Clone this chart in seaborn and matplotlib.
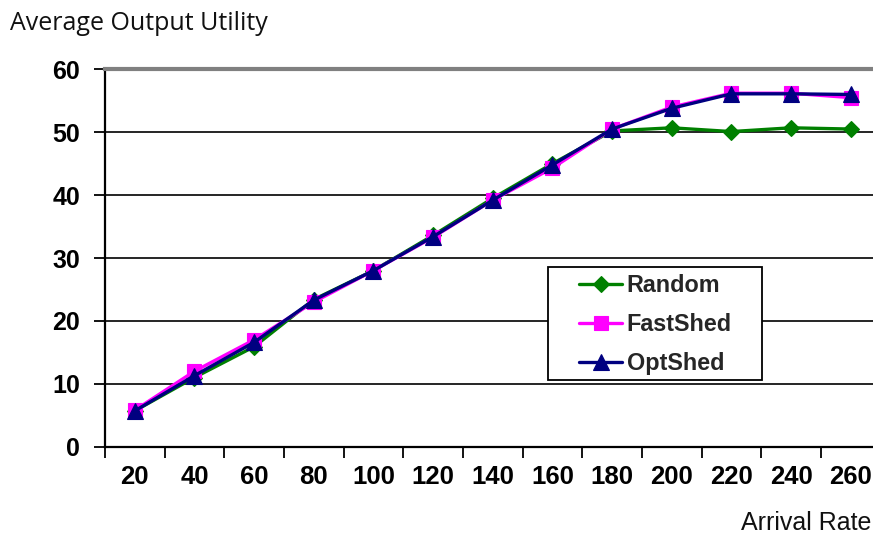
import numpy as np
import pandas as pd
import matplotlib
matplotlib.use("Agg")
import matplotlib.pyplot as plt
from matplotlib.patches import Rectangle
import seaborn as sns

# Data
arrival_rates = [20, 40, 60, 80, 100, 120, 140, 160, 180, 200, 220, 240, 260]
random_util = [5.7, 11.0, 15.9, 23.4, 28.0, 33.6, 39.5, 45.0, 50.2, 50.7, 50.1, 50.7, 50.5]
fastshed_util = [5.8, 12.0, 17.0, 23.0, 28.0, 33.3, 39.2, 44.3, 50.5, 54.0, 56.2, 56.2, 55.5]
optshed_util = [5.7, 11.3, 16.6, 23.3, 28.0, 33.4, 39.2, 44.8, 50.5, 53.8, 56.1, 56.1, 56.0]

series_names = ["Random", "FastShed", "OptShed"]
series_values = [random_util, fastshed_util, optshed_util]
series_colors = ["#008000", "#FF00FF", "#000080"]
series_markers = ["D", "s", "^"]
series_msizes = [8.5, 10.5, 11]

pos = np.arange(len(arrival_rates))
df = pd.concat(
    [pd.DataFrame({"pos": pos, "rate": arrival_rates, "utility": vals, "series": name})
     for name, vals in zip(series_names, series_values)],
    ignore_index=True,
)

sns.set_theme(style="white")
plt.rcParams["font.family"] = ["Liberation Sans", "DejaVu Sans"]

W, H = 873, 534
fig = plt.figure(figsize=(W / 100, H / 100), dpi=100)
ax = fig.add_axes([105 / W, 1 - 446.7 / H, 775.5 / W, 377.4 / H])

# Horizontal grid lines
for yv in [10, 20, 30, 40, 50]:
    ax.axhline(yv, color="black", lw=1.2, zorder=1)

for name, color, marker, ms in zip(series_names, series_colors, series_markers, series_msizes):
    sub = df[df["series"] == name]
    sns.lineplot(data=sub, x="pos", y="utility", ax=ax, color=color, lw=2.4,
                 marker=marker, markersize=ms, markeredgecolor=color,
                 markeredgewidth=0.8, label=name, zorder=3, clip_on=False)

ax.set_xlim(-0.5, len(arrival_rates) - 0.5)
ax.set_ylim(0, 60)
ax.set_xlabel("")
ax.set_ylabel("")

# Category ticks sit between categories; labels centred on them
ax.set_xticks(pos)
ax.set_xticklabels([str(r) for r in arrival_rates], fontsize=18.5, fontweight="bold")
ax.set_xticks(np.arange(-0.5, len(arrival_rates) + 0.5, 1), minor=True)
ax.tick_params(axis="x", which="major", length=0, pad=13, colors="black")
ax.tick_params(axis="x", which="minor", direction="out", length=8, width=1.3,
               color="black", bottom=True)

ax.set_yticks(np.arange(0, 61, 10))
ax.set_yticklabels([str(v) for v in range(0, 61, 10)], fontsize=18, fontweight="bold")
ax.tick_params(axis="y", direction="out", length=8, width=1.3, color="black",
               pad=10, left=True, colors="black")

for side in ["left", "bottom"]:
    ax.spines[side].set_color("black")
    ax.spines[side].set_linewidth(1.6)
ax.spines["right"].set_visible(False)
ax.spines["top"].set_color("#808080")
ax.spines["top"].set_linewidth(3)
ax.set_facecolor("white")

# Legend box, then the legend entries on top of it
ax.add_patch(Rectangle((548 / W, 1 - 380 / H), 214 / W, 113 / H,
                       transform=fig.transFigure, facecolor="white",
                       edgecolor="black", lw=1.3, zorder=4, clip_on=False))
leg = ax.legend(loc="upper left",
                bbox_to_anchor=(579 / W, 1 - 274 / H), bbox_transform=fig.transFigure,
                frameon=False,
                prop={"family": "Liberation Sans", "weight": "bold", "size": 16.8},
                handlelength=1.85, handletextpad=0.2, labelspacing=0.68,
                borderpad=0, borderaxespad=0)
leg.set_zorder(5)

fig.text(10 / W, 1 - 23 / H, "Average Output Utility", fontsize=18,
         family=["Open Sans", "DejaVu Sans"], va="center", ha="left", color="#111111")
fig.text(871 / W, 1 - 523 / H, "Arrival Rate", fontsize=18,
         family=["Liberation Sans", "DejaVu Sans"], va="center", ha="right", color="#111111")

fig.savefig("out.png", dpi=100, facecolor="white")
